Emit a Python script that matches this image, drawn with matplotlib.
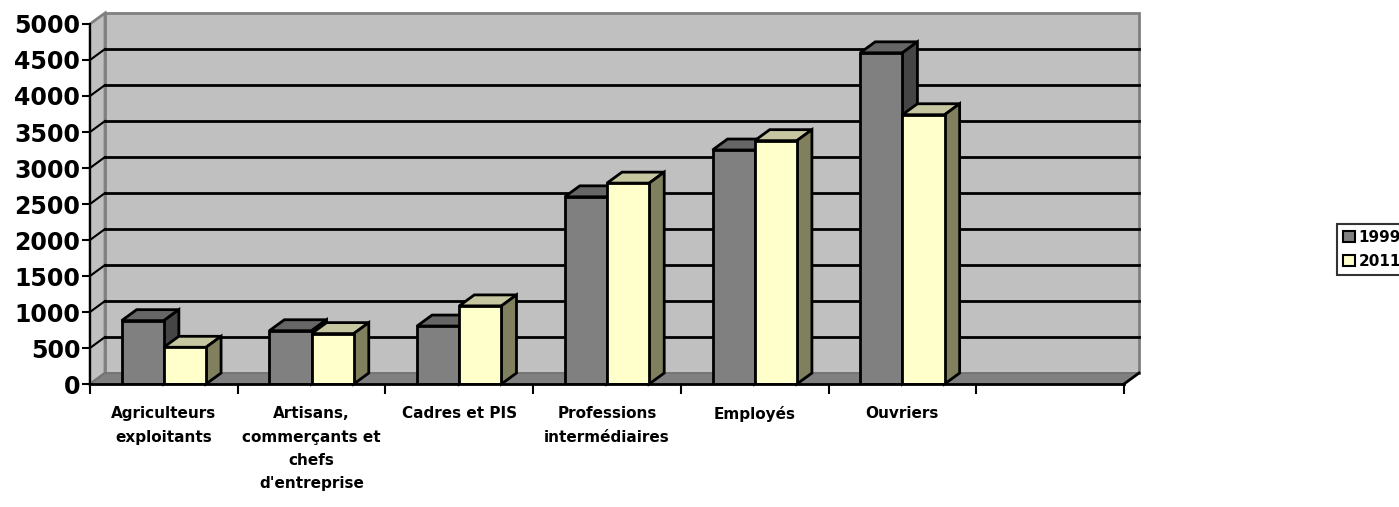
import matplotlib.pyplot as plt
from matplotlib.patches import Polygon, Patch

# data
categories = ['Agriculteurs\nexploitants', 'Artisans,\ncommerçants et\nchefs\nd\'entreprise',
              'Cadres et PIS', 'Professions\nintermédiaires', 'Employés', 'Ouvriers', '']
values_1999 = [880, 740, 805, 2600, 3250, 4600]
values_2011 = [510, 700, 1085, 2790, 3380, 3740]
series = ['1999', '2011']

front_cols = ['#808080', '#FFFFCC']
top_cols = ['#666666', '#C6C6A0']
side_cols = ['#454545', '#80805F']

plt.rcParams['font.family'] = ['DejaVu Sans']
plt.rcParams['font.weight'] = 'bold'

fig = plt.figure(figsize=(13.99, 5.07), dpi=100)
ax = fig.add_axes([90/1399, (507-384)/507, 1034/1399, 360/507])
ncat = len(categories)
ymax = 5000
ax.set_xlim(0, ncat)
ax.set_ylim(0, ymax)

# depth offset of the 3d look, in data units
dx = 15 / 1034 * ncat
dy = 11 / 72.2 * 1000

# back wall, side wall, floor
ax.add_patch(Polygon([(dx, dy), (ncat + dx, dy), (ncat + dx, ymax + dy), (dx, ymax + dy)],
                     closed=True, fc='#C0C0C0', ec='#808080', lw=2, clip_on=False, zorder=1))
ax.add_patch(Polygon([(0, 0), (dx, dy), (dx, ymax + dy), (0, ymax)],
                     closed=True, fc='#C0C0C0', ec='#808080', lw=2, clip_on=False, zorder=1))
for v in range(500, ymax, 500):
    ax.plot([dx, ncat + dx], [v + dy, v + dy], color='black', lw=2, clip_on=False, zorder=2)
    ax.plot([0, dx], [v, v + dy], color='black', lw=1.5, clip_on=False, zorder=2)
ax.add_patch(Polygon([(0, 0), (ncat, 0), (ncat + dx, dy), (dx, dy)],
                     closed=True, fc='#808080', ec='#707070', lw=1, clip_on=False, zorder=2))
ax.plot([ncat, ncat + dx], [0, dy], color='black', lw=2, clip_on=False, zorder=3)

# 3d bars
w = 1 / 3.5
for i in range(len(values_1999)):
    for s, vals in enumerate([values_1999, values_2011]):
        x0 = i + 0.5 - w + s * w
        h = vals[i]
        z = 5 + i * 3 + s
        ax.bar(x0, h, width=w, align='edge', color=front_cols[s], edgecolor='black',
               linewidth=2, zorder=z + 0.2)
        ax.add_patch(Polygon([(x0, h), (x0 + dx, h + dy), (x0 + w + dx, h + dy), (x0 + w, h)],
                             closed=True, fc=top_cols[s], ec='black', lw=2, zorder=z, clip_on=False))
        ax.add_patch(Polygon([(x0 + w, 0), (x0 + w + dx, dy), (x0 + w + dx, h + dy), (x0 + w, h)],
                             closed=True, fc=side_cols[s], ec='black', lw=2, zorder=z, clip_on=False))

ax.set_facecolor('none')
for sp in ['top', 'right']:
    ax.spines[sp].set_visible(False)
ax.spines['left'].set_linewidth(1.5)
ax.spines['bottom'].set_linewidth(2)
ax.spines['left'].set_zorder(30)
ax.spines['bottom'].set_zorder(30)

ax.set_yticks(range(0, ymax + 1, 500))
ax.set_yticklabels([str(v) for v in range(0, ymax + 1, 500)], fontsize=17, fontweight='bold')
ax.tick_params(axis='y', length=6, width=1.5, pad=1)
ax.set_xticks(range(ncat + 1))
ax.set_xticklabels([])
ax.tick_params(axis='x', which='major', length=7, width=1.5, direction='out')
ax.set_xticks([i + 0.5 for i in range(ncat)], minor=True)
ax.set_xticklabels(categories, minor=True, fontsize=11, fontweight='bold', linespacing=1.7)
ax.tick_params(axis='x', which='minor', length=0, pad=16)

handles = [Patch(facecolor=front_cols[k], edgecolor='black', lw=1.5, label=series[k]) for k in range(2)]
leg = fig.legend(handles=handles, loc='upper left', bbox_to_anchor=(1337/1399, 1 - 224/507),
                 frameon=True, fancybox=False, edgecolor='black', prop={'size': 11, 'weight': 'bold'},
                 handlelength=0.75, handleheight=0.75, handletextpad=0.25, labelspacing=0.55,
                 borderpad=0.4, borderaxespad=0)
leg.get_frame().set_linewidth(1.5)

fig.savefig('out.png', dpi=100)
